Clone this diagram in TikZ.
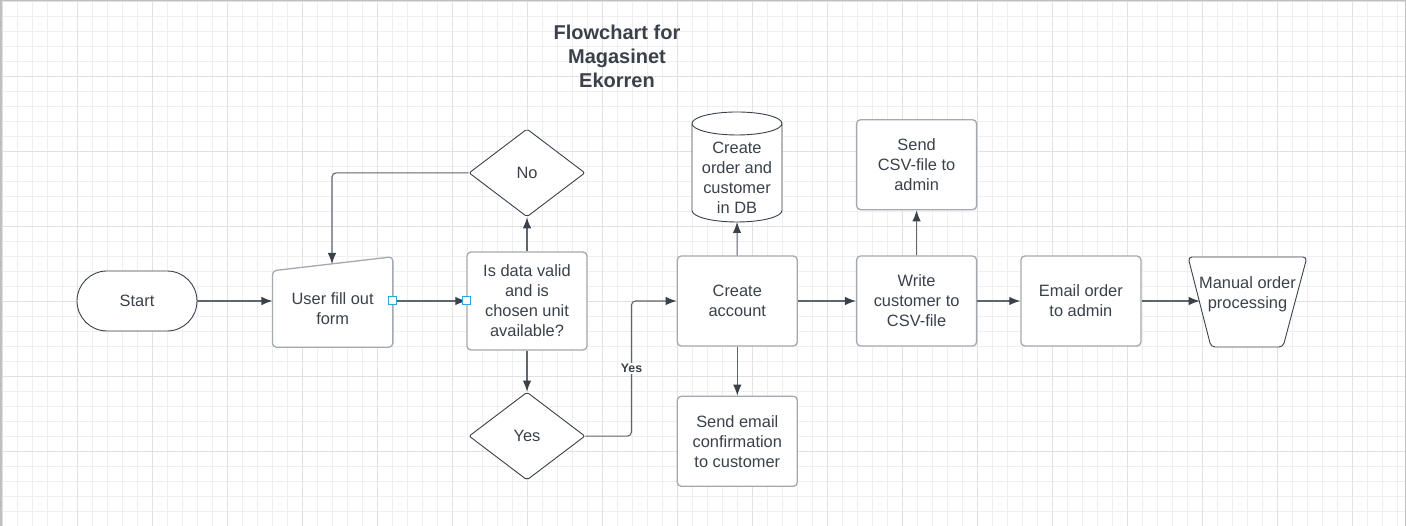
\documentclass[tikz,border=0pt]{standalone}
\usepackage{fontspec}
\setmainfont{Liberation Sans}
\usetikzlibrary{positioning,shapes.geometric,arrows.meta}
\definecolor{txt}{HTML}{3A414A}
\definecolor{edgeg}{HTML}{A4A9AF}
\definecolor{lineg}{HTML}{5F656C}
\definecolor{gridminor}{HTML}{EFEFEF}
\definecolor{gridmajor}{HTML}{E1E1E1}
\definecolor{handle}{HTML}{29A8E0}
\tikzset{every node/.style={align=center, text=txt}, >={Latex[length=11pt,width=8.5pt,color=txt]},
  font=\fontsize{16.4}{20}\selectfont,
  box/.style={draw=edgeg, line width=1.3pt, rounded corners=4pt, minimum width=120pt, minimum height=90pt, inner sep=0pt, fill=white},
  userbox/.style={draw=edgeg, line width=1.3pt, rounded corners=4pt, fill=white},
  term/.style={draw=txt, line width=0.9pt, rounded corners=30pt, minimum width=120pt, minimum height=60pt, fill=white},
  decision/.style={diamond, draw=txt, line width=0.9pt, minimum width=116pt, minimum height=88pt, inner sep=0pt, fill=white, rounded corners=2pt},
  dbline/.style={draw=txt, line width=0.9pt, fill=white},
  plain/.style={inner sep=0pt},
  flow/.style={lineg, line width=1.1pt},
  yeslbl/.style={fill=white, inner sep=1pt, font=\fontsize{12.4}{14}\selectfont\bfseries},
  handlebox/.style={draw=handle, line width=1pt, fill=white, minimum size=8pt, inner sep=0pt}
}

\begin{document}
\begin{tikzpicture}[x=1pt, y=1pt]
            \useasboundingbox (0,0) rectangle (1406,526);
            \fill[white] (0,0) rectangle (1406,526);
            \foreach \gx in {0,...,93} \draw[gridminor, line width=0.8pt] ({2.3+15*\gx},0) -- ++(0,526);
            \foreach \gy in {0,...,35} \draw[gridminor, line width=0.8pt] (0,{525-15*\gy}) -- ++(1406,0);
            \foreach \gx in {0,...,18} \draw[gridmajor, line width=0.9pt] ({2.3+75*\gx},0) -- ++(0,526);
            \foreach \gy in {0,...,7} \draw[gridmajor, line width=0.9pt] (0,{525-75*\gy}) -- ++(1406,0);
            \draw[gridmajor!85!black, line width=3pt] (0,0) -- (0,526) -- (1406,526) -- (1406,0);

            \node [font=\fontsize{20}{24}\selectfont\bfseries] (title) at (617,470) {Flowchart for\\Magasinet\\Ekorren};

            \node [term] (start) at (137,225) {Start};
            \node [plain, minimum width=120pt, minimum height=76pt] (user) [right=75pt of start, yshift=-8pt] {};
            \draw [userbox] (user.south west) -- (user.south east) -- ([yshift=14pt]user.north east) -- (user.north west) -- cycle;
            \node [plain] (usertxt) at (user.center) {User fill out\\form};
            \coordinate (utop) at (332,262);
            \node [box, minimum height=98pt] (check) at (527,225) {Is data valid\\and is\\chosen unit\\available?};
            \node [decision] (no) [above=34pt of check] {No};
            \node [decision] (yes) [below=41pt of check] {Yes};
            \node [box] (acct) [right=89pt of check] {Create\\account};
            \node [box] (mail) [below=49pt of acct] {Send email\\confirmation\\to customer};
            \node [box] (csv) [right=58pt of acct] {Write\\customer to\\CSV-file};
            \node [box] (send) [above=45pt of csv] {Send\\CSV-file to\\admin};
            \node [box] (email) [right=43pt of csv] {Email order\\to admin};

            \path [dbline] (692,402.5) -- (692,315.5) arc[start angle=180, end angle=360, x radius=45pt, y radius=11.5pt] -- (782,402.5) arc[start angle=0, end angle=180, x radius=45pt, y radius=11.5pt] -- cycle;
            \draw [dbline, fill=none] (692,402.5) arc[start angle=180, end angle=360, x radius=45pt, y radius=11.5pt];
            \node [plain] (db) at (737,348) {Create\\order and\\customer\\in DB};
            \coordinate (dbbot) at (737,304);

            \draw [dbline, rounded corners=4pt] (1188,269) -- (1307,269) -- (1283,179) -- (1211,179) -- cycle;
            \node [plain] (manual) at (1247.5,232) {Manual order\\processing};
            \coordinate (mleft) at (1199.7,225);

            \path[->, flow] (start) edge (start -| user.west)
                (start -| user.east) edge (check)
                (check) edge (no)
                    edge (yes)
                (acct) edge (dbbot)
                    edge (mail)
                    edge (csv)
                (csv) edge (send)
                    edge (email)
                (email) edge (mleft);
            \draw[->, flow, rounded corners=4pt] (no.west) -| (utop);
            \draw[->, flow, rounded corners=4pt] (yes.east) -- ++(46,0) |- (acct.west) node [yeslbl, pos=0.25] {Yes};

            \node [handlebox] (h1) at (start -| user.east) {};
            \node [handlebox] (h2) at (check.west) {};
        \end{tikzpicture}
\end{document}
